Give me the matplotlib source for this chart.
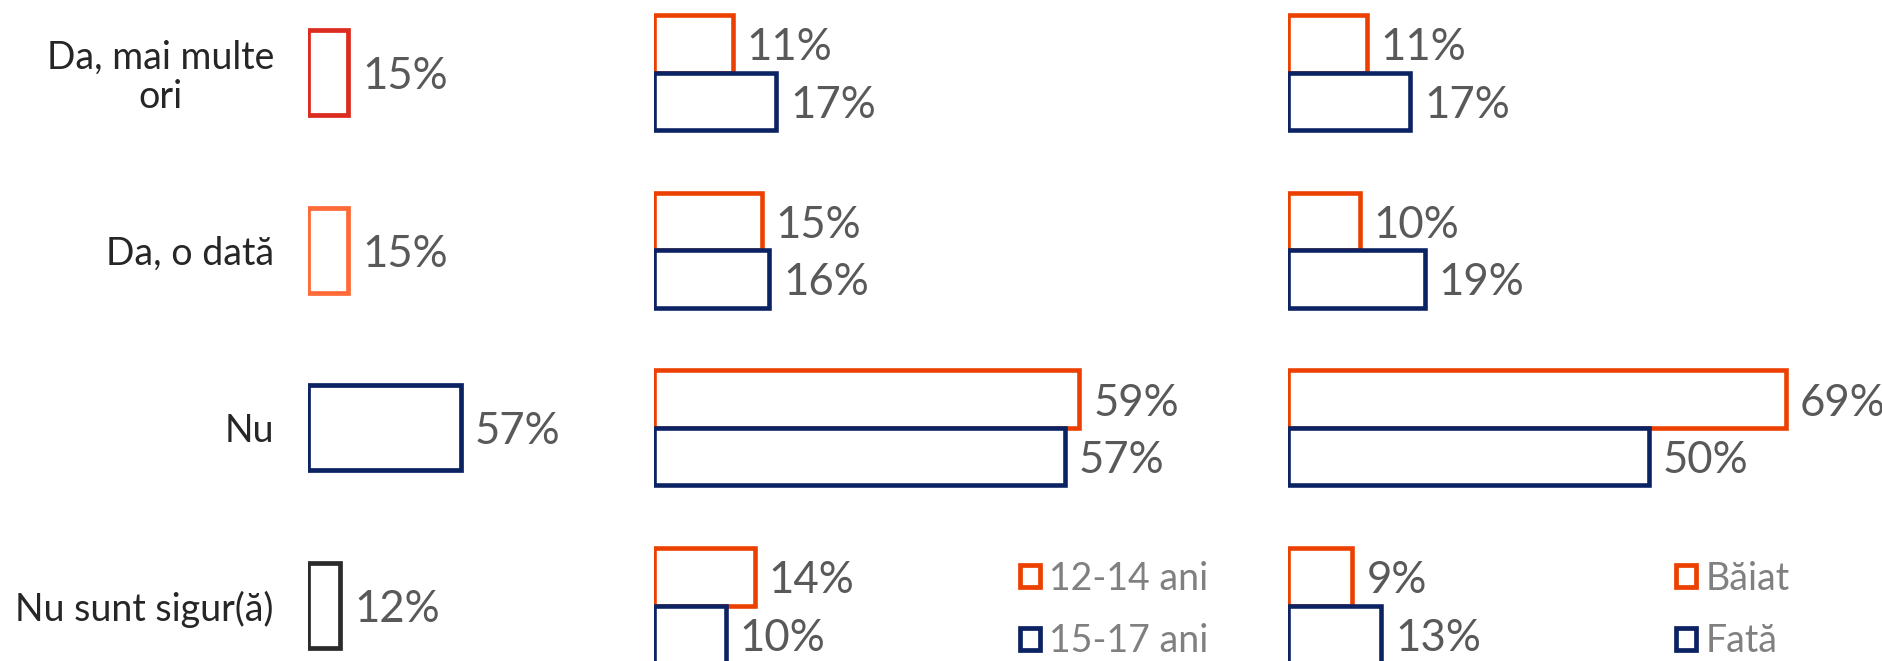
import matplotlib
matplotlib.use('Agg')
import matplotlib.pyplot as plt
from matplotlib.patches import Patch

plt.rcParams['font.family'] = ['Lato', 'DejaVu Sans']

categories = ['Da, mai multe\nori', 'Da, o dată', 'Nu', 'Nu sunt sigur(ă)']
total = [15, 15, 57, 12]
age_12_14 = [11, 15, 59, 14]
age_15_17 = [17, 16, 57, 10]
boys = [11, 10, 69, 9]
girls = [17, 19, 50, 13]
age_labels = ['12-14 ani', '15-17 ani']
sex_labels = ['Băiat', 'Fată']

total_colors = ['#DC2B1F', '#FF6B38', '#0B2263', '#2B2B2B']
orange = '#EB4000'
navy = '#0B2263'
value_color = '#595959'
W, H = 1882, 661

fig = plt.figure(figsize=(W / 100, H / 100), dpi=100)

# row centres in pixels from top: 72.5 + i*177.7
row_px = 177.7
y_top = -72.5 / row_px
y_bot = (H - 72.5) / row_px


def make_ax(x0_px, x1_px, px_per_pct):
    ax = fig.add_axes([x0_px / W, 0, (x1_px - x0_px) / W, 1])
    ax.set_xlim(0, (x1_px - x0_px) / px_per_pct)
    ax.set_ylim(y_bot, y_top)
    for s in ax.spines.values():
        s.set_visible(False)
    ax.set_xticks([])
    ax.tick_params(axis='y', length=0)
    ax.patch.set_alpha(0)
    return ax


def add_labels(ax, bars, vals):
    txts = ax.bar_label(bars, labels=[f'{v}%' for v in vals], padding=10,
                        fontsize=31.5, color=value_color)
    for t in txts:
        t.set_va('center_baseline')


# left panel: total
ax1 = make_ax(308, 640, 2.68)
ypos = list(range(len(categories)))
b = ax1.barh(ypos, total, height=85 / row_px, color='white',
             edgecolor=total_colors, linewidth=3.4)
add_labels(ax1, b, total)
ax1.set_yticks(ypos, categories, fontsize=27, color='#262626')
ax1.tick_params(axis='y', pad=24.5)
for lbl in ax1.get_yticklabels():
    lbl.set_multialignment('center')
    lbl.set_linespacing(1.12)

bh = 57.5 / row_px


def pair_panel(x0, x1, a, c, labels, leg_x):
    ax = make_ax(x0, x1, 7.22)
    ax.set_yticks([])
    y1 = [y - bh / 2 for y in ypos]
    y2 = [y + bh / 2 for y in ypos]
    r1 = ax.barh(y1, a, height=bh, color='white', edgecolor=orange, linewidth=3.3)
    r2 = ax.barh(y2, c, height=bh, color='white', edgecolor=navy, linewidth=3.3)
    add_labels(ax, r1, a)
    add_labels(ax, r2, c)
    handles = [Patch(facecolor='white', edgecolor=orange, linewidth=3.4),
               Patch(facecolor='white', edgecolor=navy, linewidth=3.4)]
    fig.legend(handles, labels, loc='center left',
               bbox_to_anchor=(leg_x / W, 1 - 610 / H),
               bbox_transform=fig.transFigure, frameon=False,
               fontsize=27, labelcolor='#808080', handlelength=0.53,
               handleheight=0.53, handletextpad=0.25, labelspacing=0.72,
               borderpad=0, borderaxespad=0)
    return ax


pair_panel(653.5, 1270, age_12_14, age_15_17, age_labels, 1020)
pair_panel(1287.5, 1882, boys, girls, sex_labels, 1676)

fig.savefig('out.png', dpi=100, facecolor='white')
